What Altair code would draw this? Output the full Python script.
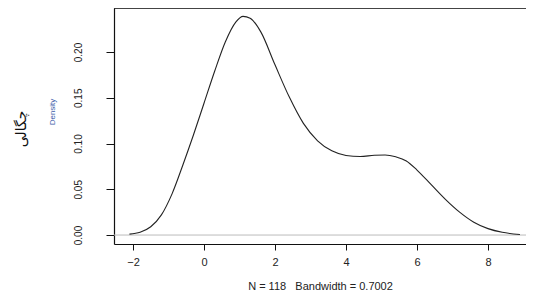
import altair as alt
import pandas as pd

# Density curve (x value, density)
xs = [-2.1, -1.8, -1.5, -1.2, -0.9, -0.6, -0.3, 0.0, 0.3, 0.6, 0.9, 1.1, 1.3, 1.6,
      2.0, 2.4, 2.8, 3.2, 3.6, 4.0, 4.4, 4.8, 5.1, 5.4, 5.7, 6.0, 6.4, 6.8, 7.2,
      7.6, 8.0, 8.4, 8.9]
ys = [0.001, 0.003, 0.009, 0.022, 0.045, 0.076, 0.109, 0.144, 0.179, 0.211, 0.233,
      0.239, 0.237, 0.222, 0.186, 0.151, 0.122, 0.103, 0.092, 0.087, 0.0858, 0.0872,
      0.0875, 0.0855, 0.081, 0.071, 0.055, 0.039, 0.025, 0.014, 0.007, 0.003, 0.0006]

x_ticks = [-2, 0, 2, 4, 6, 8]
y_ticks = [0.0, 0.05, 0.10, 0.15, 0.20]
x_title = "N = 118\u00a0\u00a0\u00a0Bandwidth = 0.7002"
y_title_fa = "چگالی"
y_title_en = "Density"

W, H = 412, 236
XDOM = [-2.535, 9.07]
YDOM = [-0.0098, 0.2481]

df = pd.DataFrame({"x": xs, "y": ys})

xscale = alt.Scale(domain=XDOM, nice=False, zero=False)
yscale = alt.Scale(domain=YDOM, nice=False, zero=False)

font = "Liberation Sans"

xaxis = alt.Axis(values=x_ticks, format="d", grid=False, domainColor="#111",
                 domainWidth=1.2, tickColor="#111", tickSize=6, labelPadding=6,
                 labelFont=font, labelFontSize=11, labelColor="#222",
                 title=x_title, titleFont=font, titleFontSize=11,
                 titleFontWeight="normal", titleColor="#222", titlePadding=13)
yaxis = alt.Axis(values=y_ticks, format=".2f", grid=False, domainColor="#111",
                 domainWidth=1.2, tickColor="#111", tickSize=8,
                 labelAngle=270, labelAlign="center", labelBaseline="bottom",
                 labelPadding=23, labelFont=font, labelFontSize=10,
                 labelColor="#222", title=None)

base = alt.Chart(df)

line = base.mark_line(color="#222", strokeWidth=1.1, interpolate="monotone").encode(
    x=alt.X("x:Q", scale=xscale, axis=xaxis),
    y=alt.Y("y:Q", scale=yscale, axis=yaxis),
)

zero = alt.Chart(pd.DataFrame({"z": [0.0]})).mark_rule(color="#bbbbbb", strokeWidth=1).encode(
    y=alt.Y("z:Q", scale=yscale),
    x=alt.value(0), x2=alt.value(W),
)

top = alt.Chart(pd.DataFrame({"z": [0]})).mark_rule(color="#111", strokeWidth=1.4).encode(
    x=alt.value(0), x2=alt.value(W + 20), y=alt.value(0),
)

t_fa = alt.Chart(pd.DataFrame({"t": [y_title_fa]})).mark_text(
    angle=270, font="DejaVu Sans", fontSize=14, color="#111"
).encode(text="t:N", x=alt.value(-92), y=alt.value(121))

t_en = alt.Chart(pd.DataFrame({"t": [y_title_en]})).mark_text(
    angle=270, font=font, fontSize=8, color="#3a5aa8"
).encode(text="t:N", x=alt.value(-61), y=alt.value(104))

chart = alt.layer(zero, line, top, t_fa, t_en).properties(
    width=W, height=H,
    autosize=alt.AutoSizeParams(type="none"),
    padding={"left": 106, "top": 0, "right": 0, "bottom": 51},
).configure_view(stroke=None).configure(background="white")

chart.save("out.html", embed_options={"renderer": "svg", "actions": False})
